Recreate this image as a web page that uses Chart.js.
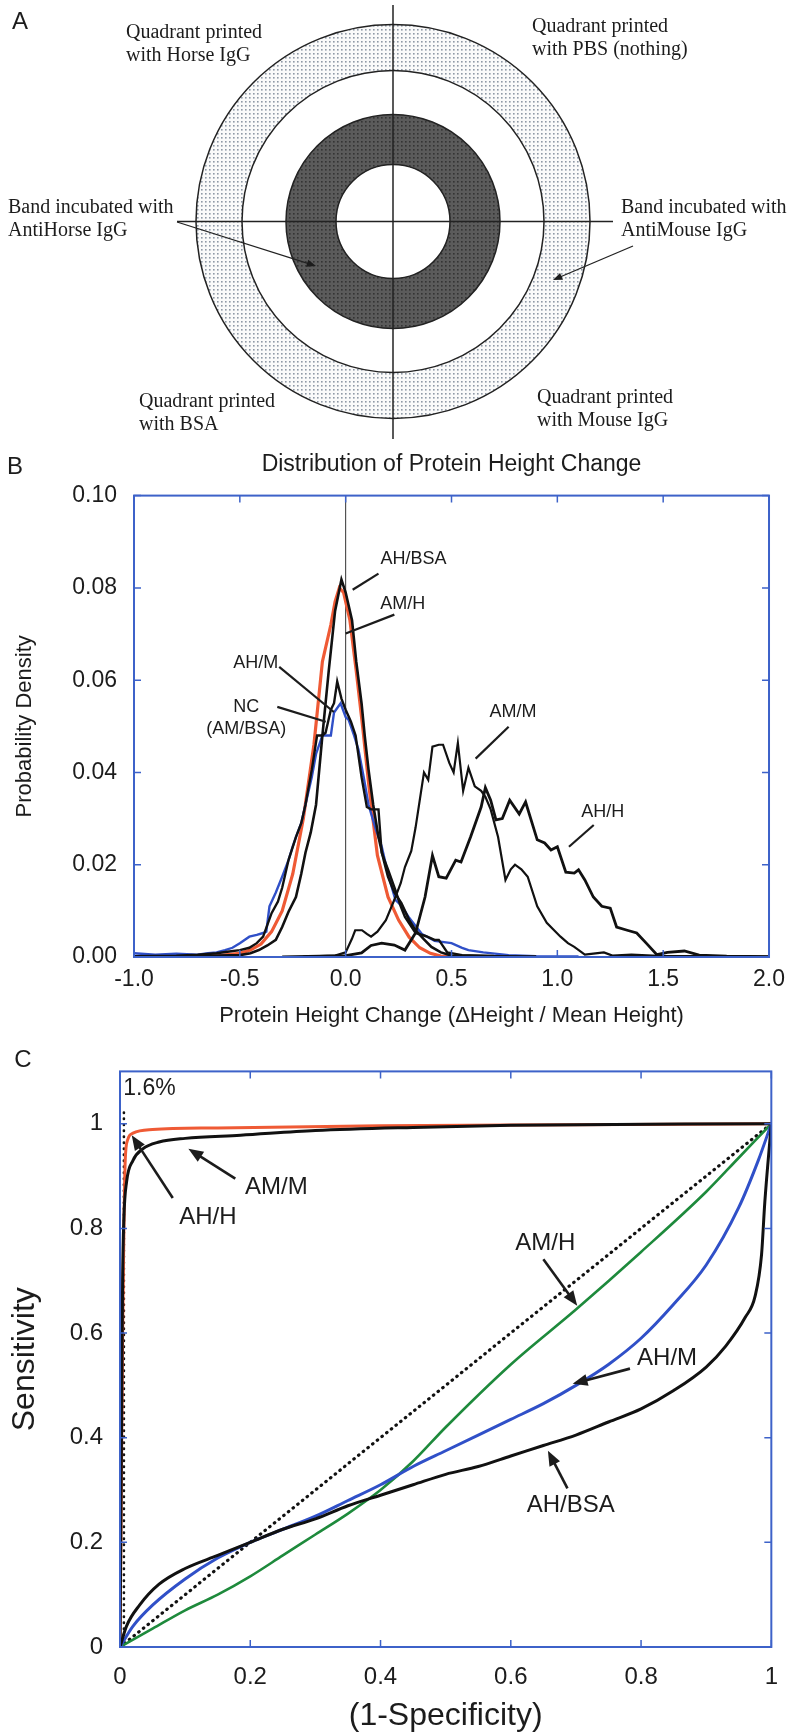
<!DOCTYPE html>
<html>
<head>
<meta charset="utf-8">
<script src="https://cdn.jsdelivr.net/npm/chart.js@4.4.1/dist/chart.umd.min.js"></script>
<style>
    body { margin: 0; background: #fff; width: 794px; height: 1735px; position: relative; overflow: hidden; }
    canvas { position: absolute; left: 0; }
    #painel-a { top: 0; }
    #painel-b { top: 440px; }
    #painel-c { top: 1040px; }
</style>
</head>
<body>
<canvas id="painel-a" width="794" height="445"></canvas>
<canvas id="painel-b" width="794" height="600"></canvas>
<canvas id="painel-c" width="794" height="695"></canvas>
<script>
const SANS = '"Liberation Sans", Arial, sans-serif';
const SERIF = '"Liberation Serif", "Times New Roman", serif';
const AZUL_MOLDURA = '#3d62c9';
const TEXTO = '#1c1c1c';

// ---- Painel A: esquema dos aneis (unidades ~ pixels, centro em 0,0)
const raiosAneis = [197, 151, 107, 57];
const linhaHorizontalA = [{ x: -216, y: 0 }, { x: 222, y: 0 }];
const linhaVerticalA = [{ x: 0, y: 216.5 }, { x: 0, y: -217.5 }];
const textosA = [
    { linhas: ['Quadrant printed', 'with Horse IgG'], x: -267, y: 188.5 },
    { linhas: ['Quadrant printed', 'with PBS (nothing)'], x: 139, y: 194.5 },
    { linhas: ['Band incubated with', 'AntiHorse IgG'], x: -385, y: 13.5 },
    { linhas: ['Band incubated with', 'AntiMouse IgG'], x: 228, y: 13.5 },
    { linhas: ['Quadrant printed', 'with BSA'], x: -254, y: -180.5 },
    { linhas: ['Quadrant printed', 'with Mouse IgG'], x: 144, y: -176.5 }
];
const setasA = [
    { de: [-216, -0.5], para: [-77, -44.5] },
    { de: [240, -24.5], para: [160, -58.5] }
];

// ---- Painel B: distribuicao da variacao de altura
const bTicksX = [-1, -0.5, 0, 0.5, 1, 1.5, 2];
const bRotulosX = ['-1.0', '-0.5', '0.0', '0.5', '1.0', '1.5', '2.0'];
const bTicksY = [0, 0.02, 0.04, 0.06, 0.08, 0.10];
const bRotulosY = ['0.00', '0.02', '0.04', '0.06', '0.08', '0.10'];

const amHX = [-0.7, -0.6, -0.5, -0.45, -0.4, -0.35, -0.3, -0.25, -0.2, -0.15, -0.11, -0.07, -0.05, -0.03, -0.01, 0.02, 0.05, 0.08, 0.11, 0.15, 0.2, 0.25, 0.3, 0.35, 0.4, 0.45, 0.5];
const amHY = [0.0002, 0.0003, 0.0008, 0.0015, 0.0028, 0.0055, 0.010, 0.018, 0.030, 0.046, 0.064, 0.072, 0.077, 0.080, 0.079, 0.073, 0.062, 0.050, 0.037, 0.022, 0.013, 0.008, 0.0043, 0.002, 0.0008, 0.0002, 0.0];

const ahBsaX = [-0.7, -0.5, -0.45, -0.41, -0.37, -0.33, -0.3, -0.27, -0.235, -0.21, -0.19, -0.165, -0.14, -0.11, -0.08, -0.05, -0.02, 0.0, 0.03, 0.05, 0.075, 0.09, 0.108, 0.13, 0.155, 0.18, 0.2, 0.23, 0.263, 0.3, 0.33, 0.37, 0.405, 0.45, 0.5, 0.7];
const ahBsaY = [0.0002, 0.0004, 0.0008, 0.0015, 0.0025, 0.0037, 0.0065, 0.0098, 0.013, 0.018, 0.0226, 0.027, 0.033, 0.048, 0.062, 0.075, 0.0818, 0.079, 0.073, 0.064, 0.055, 0.048, 0.0406, 0.033, 0.026, 0.021, 0.0174, 0.014, 0.0117, 0.008, 0.0058, 0.0038, 0.0022, 0.001, 0.0003, 0.0002];

const ahMX = [-1.0, -0.8, -0.7, -0.61, -0.55, -0.5, -0.455, -0.42, -0.39, -0.35, -0.32, -0.3, -0.27, -0.235, -0.21, -0.19, -0.16, -0.135, -0.11, -0.095, -0.07, -0.055, -0.04, -0.02, 0.0, 0.025, 0.047, 0.075, 0.1, 0.12, 0.155, 0.17, 0.2, 0.235, 0.26, 0.28, 0.33, 0.38, 0.42, 0.44, 0.48, 0.55, 0.7, 0.9];
const ahMY = [0.0002, 0.0003, 0.0005, 0.0008, 0.0012, 0.0015, 0.002, 0.003, 0.0044, 0.0095, 0.012, 0.015, 0.021, 0.026, 0.029, 0.033, 0.0406, 0.048, 0.048, 0.0486, 0.0536, 0.055, 0.0597, 0.056, 0.0536, 0.051, 0.048, 0.039, 0.0325, 0.032, 0.032, 0.0226, 0.019, 0.0145, 0.011, 0.0087, 0.0052, 0.0045, 0.0037, 0.0037, 0.001, 0.0004, 0.0002, 0.0001];

const ncX = [-1.0, -0.9, -0.8, -0.7, -0.65, -0.61, -0.57, -0.535, -0.5, -0.455, -0.42, -0.39, -0.375, -0.36, -0.33, -0.3, -0.27, -0.25, -0.235, -0.21, -0.19, -0.16, -0.14, -0.11, -0.09, -0.07, -0.055, -0.024, 0.0, 0.014, 0.04, 0.06, 0.085, 0.108, 0.14, 0.17, 0.2, 0.235, 0.25, 0.265, 0.3, 0.36, 0.42, 0.5, 0.55, 0.58, 0.65, 0.77, 0.9, 1.1];
const ncY = [0.0008, 0.0005, 0.0007, 0.0005, 0.0008, 0.001, 0.0015, 0.002, 0.003, 0.0044, 0.0048, 0.0052, 0.0055, 0.011, 0.014, 0.0174, 0.021, 0.024, 0.026, 0.029, 0.033, 0.039, 0.044, 0.048, 0.048, 0.048, 0.053, 0.055, 0.052, 0.0514, 0.048, 0.045, 0.039, 0.033, 0.028, 0.024, 0.018, 0.0124, 0.0117, 0.011, 0.0085, 0.005, 0.0035, 0.003, 0.002, 0.0015, 0.001, 0.0004, 0.0002, 0.0001];

const amMX = [-0.2, -0.05, 0.0, 0.03, 0.045, 0.077, 0.1, 0.12, 0.15, 0.19, 0.23, 0.26, 0.28, 0.31, 0.33, 0.35, 0.37, 0.39, 0.41, 0.44, 0.46, 0.49, 0.51, 0.53, 0.555, 0.58, 0.61, 0.64, 0.66, 0.685, 0.72, 0.755, 0.78, 0.8, 0.83, 0.86, 0.905, 0.95, 0.98, 1.015, 1.05, 1.08, 1.13, 1.18, 1.22, 1.26, 1.35, 1.5, 1.7, 2.0];
const amMY = [0.0001, 0.0003, 0.001, 0.004, 0.0058, 0.0058, 0.005, 0.0044, 0.0055, 0.008, 0.0124, 0.016, 0.0195, 0.023, 0.028, 0.034, 0.040, 0.0384, 0.0456, 0.046, 0.046, 0.042, 0.040, 0.0464, 0.036, 0.041, 0.037, 0.036, 0.0347, 0.032, 0.026, 0.0167, 0.019, 0.020, 0.019, 0.0174, 0.011, 0.0074, 0.006, 0.0044, 0.003, 0.0022, 0.0005, 0.0008, 0.001, 0.0003, 0.0005, 0.0002, 0.0002, 0.0001];

const ahHX = [-0.3, 0.0, 0.075, 0.12, 0.17, 0.23, 0.28, 0.33, 0.375, 0.41, 0.44, 0.475, 0.52, 0.545, 0.59, 0.64, 0.66, 0.685, 0.71, 0.74, 0.775, 0.82, 0.85, 0.905, 0.94, 0.97, 1.0, 1.04, 1.08, 1.1, 1.13, 1.17, 1.21, 1.25, 1.28, 1.33, 1.375, 1.42, 1.47, 1.52, 1.6, 1.67, 1.8, 2.0];
const ahHY = [0.0, 0.0003, 0.0009, 0.0025, 0.003, 0.0026, 0.0015, 0.0052, 0.013, 0.022, 0.0174, 0.0171, 0.021, 0.0206, 0.026, 0.0325, 0.0367, 0.034, 0.0297, 0.030, 0.034, 0.031, 0.0336, 0.0254, 0.0247, 0.0232, 0.0239, 0.0184, 0.0182, 0.0189, 0.0167, 0.013, 0.011, 0.0106, 0.0065, 0.0058, 0.0052, 0.003, 0.0005, 0.001, 0.0013, 0.0004, 0.0002, 0.0001];

const linhaZeroB = [{ x: 0, y: 0 }, { x: 0, y: 0.1 }];

const rotulosB = [
    { texto: 'AH/BSA', x: 0.32, y: 0.0863 },
    { texto: 'AM/H', x: 0.27, y: 0.0764 },
    { texto: 'AH/M', x: -0.425, y: 0.0638 },
    { texto: 'NC', x: -0.47, y: 0.0542 },
    { texto: '(AM/BSA)', x: -0.47, y: 0.0495 },
    { texto: 'AM/M', x: 0.79, y: 0.0531 },
    { texto: 'AH/H', x: 1.214, y: 0.0315 }
];
const ligacoesB = [
    { de: [0.155, 0.0831], para: [0.033, 0.0796] },
    { de: [0.23, 0.0742], para: [0.0, 0.0701] },
    { de: [-0.314, 0.0629], para: [-0.056, 0.0531] },
    { de: [-0.323, 0.0542], para: [-0.094, 0.051] },
    { de: [0.77, 0.0499], para: [0.614, 0.043] },
    { de: [1.172, 0.0286], para: [1.055, 0.0239] }
];

// ---- Painel C: curvas ROC
const cTicks = [0, 0.2, 0.4, 0.6, 0.8, 1];
const cRotulos = ['0', '0.2', '0.4', '0.6', '0.8', '1'];

const rocAhHX = [0, 0.002, 0.004, 0.006, 0.008, 0.012, 0.02, 0.05, 0.15, 0.4, 0.7, 1];
const rocAhHY = [0, 0.3, 0.6, 0.8, 0.93, 0.97, 0.982, 0.989, 0.992, 0.996, 0.998, 1];

const rocAmMX = [0, 0.002, 0.004, 0.006, 0.01, 0.02, 0.035, 0.06, 0.1, 0.185, 0.3, 0.45, 0.6, 1];
const rocAmMY = [0, 0.35, 0.7, 0.82, 0.888, 0.93, 0.952, 0.965, 0.972, 0.978, 0.987, 0.993, 0.997, 1];

const rocAmHX = [0, 0.05, 0.1, 0.15, 0.2, 0.25, 0.3, 0.35, 0.4, 0.45, 0.5, 0.6, 0.7, 0.8, 0.9, 0.95, 1];
const rocAmHY = [0, 0.035, 0.07, 0.1, 0.135, 0.175, 0.215, 0.255, 0.3, 0.355, 0.42, 0.54, 0.645, 0.755, 0.87, 0.935, 1];

const rocAhMX = [0, 0.02, 0.05, 0.1, 0.15, 0.2, 0.25, 0.3, 0.35, 0.4, 0.45, 0.5, 0.55, 0.6, 0.65, 0.7, 0.75, 0.8, 0.85, 0.9, 0.95, 0.98, 1];
const rocAhMY = [0, 0.04, 0.08, 0.13, 0.17, 0.2, 0.225, 0.25, 0.28, 0.31, 0.345, 0.375, 0.405, 0.435, 0.465, 0.5, 0.54, 0.59, 0.655, 0.73, 0.84, 0.93, 1];

const rocAhBsaX = [0, 0.01, 0.03, 0.06, 0.1, 0.15, 0.2, 0.25, 0.3, 0.35, 0.4, 0.45, 0.5, 0.55, 0.6, 0.65, 0.7, 0.75, 0.8, 0.85, 0.9, 0.93, 0.96, 0.975, 0.985, 0.99, 1];
const rocAhBsaY = [0, 0.04, 0.08, 0.12, 0.15, 0.175, 0.2, 0.225, 0.245, 0.27, 0.29, 0.31, 0.33, 0.345, 0.365, 0.385, 0.405, 0.43, 0.455, 0.49, 0.535, 0.575, 0.63, 0.67, 0.75, 0.85, 1];

const diagonalC = [{ x: 0, y: 0 }, { x: 1, y: 1 }];
const corteC = [{ x: 0.006, y: 0 }, { x: 0.006, y: 1.03 }];

const rotulosC = [
    { texto: 'AM/M', x: 0.24, y: 0.878 },
    { texto: 'AH/H', x: 0.135, y: 0.821 },
    { texto: 'AM/H', x: 0.653, y: 0.771 },
    { texto: 'AH/M', x: 0.84, y: 0.551 },
    { texto: 'AH/BSA', x: 0.692, y: 0.27 }
];
const setasC = [
    { de: [0.177, 0.895], para: [0.105, 0.952] },
    { de: [0.081, 0.858], para: [0.018, 0.978] },
    { de: [0.65, 0.741], para: [0.702, 0.652] },
    { de: [0.783, 0.532], para: [0.695, 0.503] },
    { de: [0.687, 0.303], para: [0.657, 0.375] }
];

function serie(xs, ys) {
    return xs.map((x, i) => ({ x, y: ys[i] }));
}

function desenharSeta(ctx, x1, y1, x2, y2, largura, tamanho, comPonta) {
    const ang = Math.atan2(y2 - y1, x2 - x1);
    const recuo = comPonta ? tamanho * 0.7 : 0;
    ctx.lineWidth = largura;
    ctx.beginPath();
    ctx.moveTo(x1, y1);
    ctx.lineTo(x2 - recuo * Math.cos(ang), y2 - recuo * Math.sin(ang));
    ctx.stroke();
    if (!comPonta) {
        return;
    }
    ctx.beginPath();
    ctx.moveTo(x2, y2);
    ctx.lineTo(x2 - tamanho * Math.cos(ang - 0.38), y2 - tamanho * Math.sin(ang - 0.38));
    ctx.lineTo(x2 - tamanho * Math.cos(ang + 0.38), y2 - tamanho * Math.sin(ang + 0.38));
    ctx.closePath();
    ctx.fill();
}

function padraoPontilhado(fundo, ponto) {
    const c = document.createElement('canvas');
    c.width = 4;
    c.height = 4;
    const g = c.getContext('2d');
    g.fillStyle = fundo;
    g.fillRect(0, 0, 4, 4);
    g.fillStyle = ponto;
    g.fillRect(1, 1, 1.6, 1.6);
    return c;
}

// letra do painel (A, B, C)
const letraPlugin = {
    id: 'letra',
    afterDraw(chart, args, opts) {
        const ctx = chart.ctx;
        ctx.save();
        ctx.fillStyle = TEXTO;
        ctx.font = `24px ${SANS}`;
        ctx.textAlign = 'center';
        ctx.textBaseline = 'middle';
        ctx.fillText(opts.texto, opts.x, opts.y);
        ctx.restore();
    }
};

// moldura azul com marcas de escala para dentro
const molduraPlugin = {
    id: 'moldura',
    afterDatasetsDraw(chart, args, opts) {
        const { ctx, chartArea: { left, right, top, bottom }, scales: { x, y } } = chart;
        ctx.save();
        ctx.strokeStyle = AZUL_MOLDURA;
        ctx.lineWidth = 2;
        ctx.strokeRect(left, top, right - left, bottom - top);
        ctx.lineWidth = 1.5;
        ctx.beginPath();
        opts.ticksX.forEach(v => {
            const px = x.getPixelForValue(v);
            ctx.moveTo(px, top);
            ctx.lineTo(px, top + 7);
            ctx.moveTo(px, bottom);
            ctx.lineTo(px, bottom - 7);
        });
        opts.ticksY.forEach(v => {
            const py = y.getPixelForValue(v);
            ctx.moveTo(left, py);
            ctx.lineTo(left + 7, py);
            ctx.moveTo(right, py);
            ctx.lineTo(right - 7, py);
        });
        ctx.stroke();
        ctx.restore();
    }
};

// rotulos e setas de anotacao em coordenadas de dados
const anotacoesPlugin = {
    id: 'anotacoes',
    afterDatasetsDraw(chart, args, opts) {
        const { ctx, scales: { x, y } } = chart;
        ctx.save();
        ctx.fillStyle = TEXTO;
        ctx.strokeStyle = TEXTO;
        ctx.lineCap = 'butt';
        opts.setas.forEach(s => {
            desenharSeta(ctx,
                x.getPixelForValue(s.de[0]), y.getPixelForValue(s.de[1]),
                x.getPixelForValue(s.para[0]), y.getPixelForValue(s.para[1]),
                opts.largura, opts.ponta, opts.comPonta);
        });
        ctx.font = `${opts.tamanho}px ${SANS}`;
        ctx.textAlign = 'center';
        ctx.textBaseline = 'middle';
        opts.rotulos.forEach(r => {
            ctx.fillText(r.texto, x.getPixelForValue(r.x), y.getPixelForValue(r.y));
        });
        if (opts.extra) {
            ctx.font = `${opts.extra.tamanho}px ${SANS}`;
            ctx.textAlign = 'left';
            ctx.fillText(opts.extra.texto, x.getPixelForValue(opts.extra.x), y.getPixelForValue(opts.extra.y));
        }
        ctx.restore();
    }
};

// aneis concentricos do painel A
const aneisPlugin = {
    id: 'aneis',
    beforeDatasetsDraw(chart) {
        const { ctx, scales: { x, y } } = chart;
        const cx = x.getPixelForValue(0);
        const cy = y.getPixelForValue(0);
        const raio = v => x.getPixelForValue(v) - cx;
        const claro = ctx.createPattern(padraoPontilhado('#fafafa', '#8f99a6'), 'repeat');
        const escuro = ctx.createPattern(padraoPontilhado('#5b5b5b', '#343434'), 'repeat');
        ctx.save();
        ctx.beginPath();
        ctx.arc(cx, cy, raio(raiosAneis[0]), 0, Math.PI * 2);
        ctx.arc(cx, cy, raio(raiosAneis[1]), 0, Math.PI * 2, true);
        ctx.fillStyle = claro;
        ctx.fill();
        ctx.beginPath();
        ctx.arc(cx, cy, raio(raiosAneis[2]), 0, Math.PI * 2);
        ctx.arc(cx, cy, raio(raiosAneis[3]), 0, Math.PI * 2, true);
        ctx.fillStyle = escuro;
        ctx.fill();
        ctx.strokeStyle = '#222';
        ctx.lineWidth = 1.5;
        raiosAneis.forEach(r => {
            ctx.beginPath();
            ctx.arc(cx, cy, raio(r), 0, Math.PI * 2);
            ctx.stroke();
        });
        ctx.restore();
    },
    afterDatasetsDraw(chart) {
        const { ctx, scales: { x, y } } = chart;
        ctx.save();
        ctx.fillStyle = TEXTO;
        ctx.strokeStyle = '#222';
        ctx.font = `20px ${SERIF}`;
        ctx.textAlign = 'left';
        ctx.textBaseline = 'middle';
        textosA.forEach(t => {
            t.linhas.forEach((linha, i) => {
                ctx.fillText(linha, x.getPixelForValue(t.x), y.getPixelForValue(t.y) + i * 23);
            });
        });
        setasA.forEach(s => {
            desenharSeta(ctx,
                x.getPixelForValue(s.de[0]), y.getPixelForValue(s.de[1]),
                x.getPixelForValue(s.para[0]), y.getPixelForValue(s.para[1]),
                1.3, 10, true);
        });
        ctx.restore();
    }
};

const opcoesBase = {
    responsive: false,
    animation: false,
    devicePixelRatio: 1,
    events: []
};

function linha(dados, cor, largura, extra) {
    return Object.assign({
        data: dados,
        showLine: true,
        borderColor: cor,
        borderWidth: largura,
        pointRadius: 0,
        fill: false,
        tension: 0
    }, extra || {});
}

function criarPainelA() {
    new Chart(document.getElementById('painel-a'), {
        type: 'scatter',
        data: {
            datasets: [
                linha(linhaHorizontalA, '#222', 1.5),
                linha(linhaVerticalA, '#222', 1.5)
            ]
        },
        options: Object.assign({}, opcoesBase, {
            layout: { padding: { left: 173, right: 181, top: 1.5, bottom: 3.5 } },
            plugins: {
                legend: { display: false },
                tooltip: { enabled: false },
                letra: { texto: 'A', x: 20, y: 22 }
            },
            scales: {
                x: { type: 'linear', display: false, min: -220, max: 220 },
                y: { type: 'linear', display: false, min: -220, max: 220 }
            }
        }),
        plugins: [aneisPlugin, letraPlugin]
    });
}

function criarPainelB() {
    new Chart(document.getElementById('painel-b'), {
        type: 'scatter',
        data: {
            datasets: [
                linha(serie(ahBsaX, ahBsaY), '#111', 2.6),
                linha(serie(ahMX, ahMY), '#111', 2.4),
                linha(serie(amMX, amMY), '#111', 2.2),
                linha(serie(ahHX, ahHY), '#111', 2.8),
                linha(serie(ncX, ncY), '#3050c8', 2.4),
                linha(serie(amHX, amHY), '#ef5a35', 3.2),
                linha(linhaZeroB, '#333', 1)
            ]
        },
        options: Object.assign({}, opcoesBase, {
            layout: { padding: { left: 0, right: 21, top: 0, bottom: 0 } },
            plugins: {
                legend: { display: false },
                tooltip: { enabled: false },
                title: {
                    display: true,
                    fullSize: false,
                    text: 'Distribution of Protein Height Change',
                    color: TEXTO,
                    font: { family: SANS, size: 23, weight: 'normal' },
                    padding: { top: 11, bottom: 17 }
                },
                letra: { texto: 'B', x: 15, y: 27 },
                moldura: { ticksX: bTicksX, ticksY: bTicksY },
                anotacoes: { rotulos: rotulosB, setas: ligacoesB, largura: 2.2, ponta: 0, comPonta: false, tamanho: 18 }
            },
            scales: {
                x: {
                    type: 'linear',
                    min: -1,
                    max: 2,
                    afterFit(escala) { escala.height = 83; },
                    afterBuildTicks(escala) { escala.ticks = bTicksX.map(v => ({ value: v })); },
                    ticks: {
                        callback: (v, i) => bRotulosX[i],
                        color: TEXTO,
                        font: { family: SANS, size: 23 },
                        padding: 9,
                        maxRotation: 0,
                        autoSkip: false
                    },
                    grid: { display: false, drawTicks: false },
                    border: { display: false },
                    title: {
                        display: true,
                        text: 'Protein Height Change (\u0394Height / Mean Height)',
                        color: TEXTO,
                        font: { family: SANS, size: 22 },
                        padding: { top: 0, bottom: 11 }
                    }
                },
                y: {
                    type: 'linear',
                    min: 0,
                    max: 0.1,
                    afterFit(escala) { escala.width = 134; },
                    afterBuildTicks(escala) { escala.ticks = bTicksY.map(v => ({ value: v })); },
                    ticks: {
                        callback: (v, i) => bRotulosY[i],
                        color: TEXTO,
                        font: { family: SANS, size: 23 },
                        padding: 17
                    },
                    grid: { display: false, drawTicks: false },
                    border: { display: false },
                    title: {
                        display: true,
                        text: 'Probability Density',
                        color: TEXTO,
                        font: { family: SANS, size: 22 },
                        padding: { top: 12, bottom: 0 }
                    }
                }
            }
        }),
        plugins: [molduraPlugin, anotacoesPlugin, letraPlugin]
    });
}

function criarPainelC() {
    const suave = { cubicInterpolationMode: 'monotone' };
    const pontilhado = { borderDash: [0.5, 5.5], borderCapStyle: 'round' };
    new Chart(document.getElementById('painel-c'), {
        type: 'scatter',
        data: {
            datasets: [
                linha(serie(rocAmMX, rocAmMY), '#111', 3, suave),
                linha(serie(rocAhBsaX, rocAhBsaY), '#111', 3, suave),
                linha(serie(rocAhHX, rocAhHY), '#ef5a35', 3, suave),
                linha(serie(rocAhMX, rocAhMY), '#3050c8', 3, suave),
                linha(serie(rocAmHX, rocAmHY), '#1e8a3c', 2.6, suave),
                linha(diagonalC, '#111', 3.2, pontilhado),
                linha(corteC, '#111', 2.6, pontilhado)
            ]
        },
        options: Object.assign({}, opcoesBase, {
            layout: { padding: { left: 0, right: 9, top: 12, bottom: 0 } },
            plugins: {
                legend: { display: false },
                tooltip: { enabled: false },
                letra: { texto: 'C', x: 23, y: 20 },
                moldura: { ticksX: cTicks, ticksY: cTicks },
                anotacoes: {
                    rotulos: rotulosC, setas: setasC, largura: 2.6, ponta: 16, comPonta: true, tamanho: 24,
                    extra: { texto: '1.6%', x: 0.005, y: 1.067, tamanho: 23 }
                }
            },
            scales: {
                x: {
                    type: 'linear',
                    min: 0,
                    max: 1,
                    afterFit(escala) { escala.height = 88; },
                    afterBuildTicks(escala) { escala.ticks = cTicks.map(v => ({ value: v })); },
                    ticks: {
                        callback: (v, i) => cRotulos[i],
                        color: TEXTO,
                        font: { family: SANS, size: 24 },
                        padding: 16,
                        maxRotation: 0,
                        autoSkip: false
                    },
                    grid: { display: false, drawTicks: false },
                    border: { display: false },
                    title: {
                        display: true,
                        text: '(1-Specificity)',
                        color: TEXTO,
                        font: { family: SANS, size: 32 },
                        padding: { top: 0, bottom: 0 }
                    }
                },
                y: {
                    type: 'linear',
                    min: 0,
                    max: 1.1,
                    afterFit(escala) { escala.width = 120; },
                    afterBuildTicks(escala) { escala.ticks = cTicks.map(v => ({ value: v })); },
                    ticks: {
                        callback: (v, i) => cRotulos[i],
                        color: TEXTO,
                        font: { family: SANS, size: 24 },
                        padding: 17
                    },
                    grid: { display: false, drawTicks: false },
                    border: { display: false },
                    title: {
                        display: true,
                        text: 'Sensitivity',
                        color: TEXTO,
                        font: { family: SANS, size: 32 },
                        padding: { top: 6, bottom: 0 }
                    }
                }
            }
        }),
        plugins: [molduraPlugin, anotacoesPlugin, letraPlugin]
    });
}

criarPainelA();
criarPainelB();
criarPainelC();
</script>
</body>
</html>
